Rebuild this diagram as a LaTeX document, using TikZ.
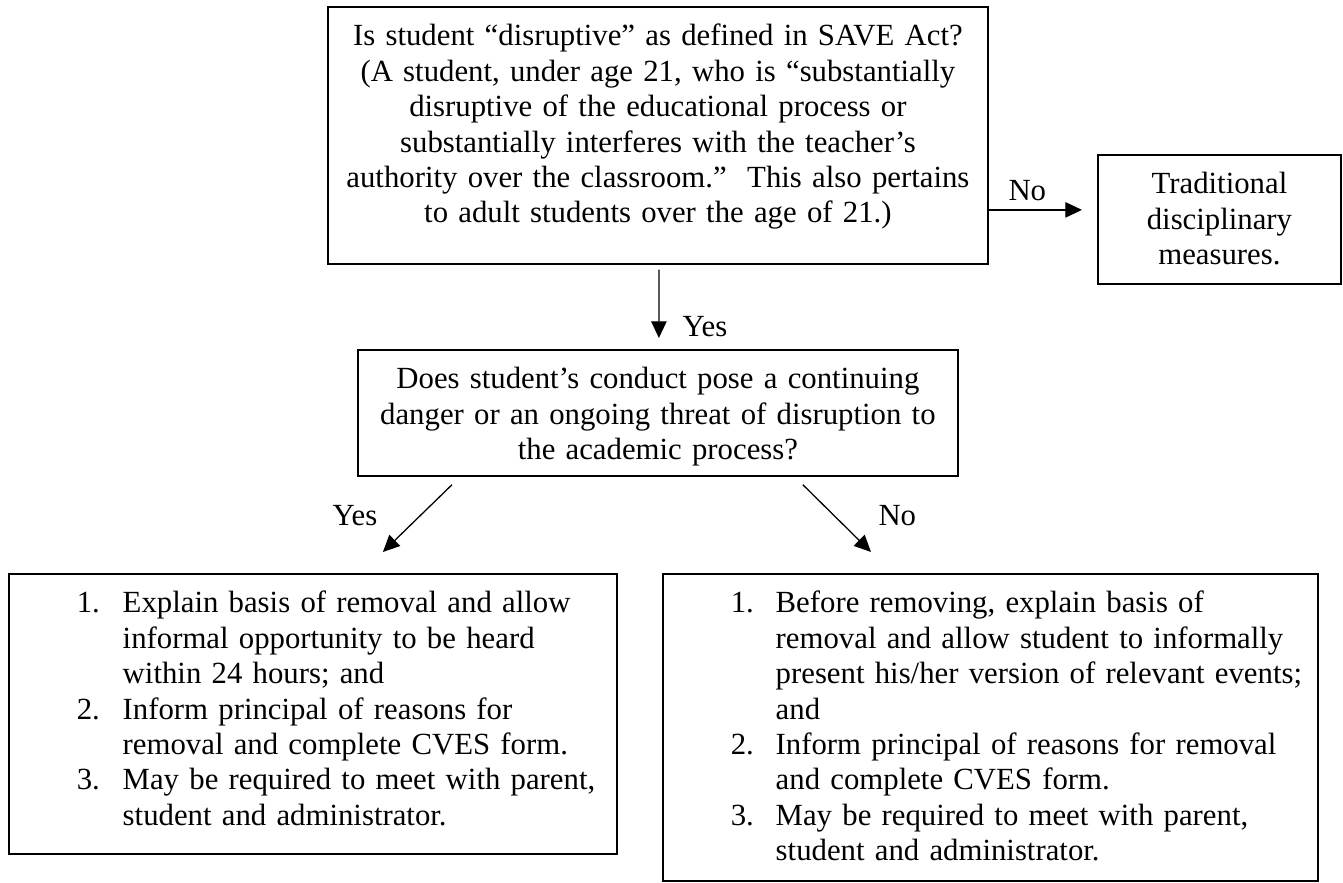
\documentclass[tikz,border=0pt]{standalone}
\usepackage{fontspec}
\setmainfont{Liberation Serif}
\usetikzlibrary{arrows.meta,calc}

\tikzset{
  qbox/.style={draw,line width=0.7pt,anchor=north west,inner xsep=0pt,inner ysep=0pt,
    align=center,text height=15.2pt},
  lbox/.style={qbox,align=left},
  lbl/.style={anchor=base west,inner sep=0pt},
  arr/.style={line width=0.5pt,-{Triangle[length=6.5pt,width=6pt]}}
}

\begin{document}
\begin{tikzpicture}[x=0.39pt,y=-0.39pt,font=\fontsize{12pt}{13.8pt}\selectfont]
\useasboundingbox (0,0) rectangle (1343,883);

% questions
\node[qbox,text width=257.4pt,text depth=85pt] (q1) at (327,6)
  {Is student “disruptive” as defined in SAVE Act?\\
   (A student, under age 21, who is “substantially\\
   disruptive of the educational process or\\
   substantially interferes with the teacher’s\\
   authority over the classroom.”\ \ This also pertains\\
   to adult students over the age of 21.)};
\node[qbox,text width=94.8pt,text depth=35.1pt] (tr) at (1097,154)
  {Traditional\\ disciplinary\\ measures.};
\node[qbox,text width=234pt,text depth=33.9pt] (q2) at (357,349)
  {Does student’s conduct pose a continuing\\
   danger or an ongoing threat of disruption to\\
   the academic process?};

% actions
\node[lbox,text width=237.1pt,text depth=94pt] (a1) at (8,573)
  {\hspace*{26.5pt}\begin{tabular}[t]{@{}p{17.9pt}@{}l@{}}
   1. & Explain basis of removal and allow\\
      & informal opportunity to be heard\\
      & within 24 hours; and\\
   2. & Inform principal of reasons for\\
      & removal and complete CVES form.\\
   3. & May be required to meet with parent,\\
      & student and administrator.
   \end{tabular}};
\node[lbox,text width=255.5pt,text depth=104.5pt] (a2) at (662,573)
  {\hspace*{26.5pt}\begin{tabular}[t]{@{}p{17.5pt}@{}l@{}}
   1. & Before removing, explain basis of\\
      & removal and allow student to informally\\
      & present his/her version of relevant events;\\
      & and\\
   2. & Inform principal of reasons for removal\\
      & and complete CVES form.\\
   3. & May be required to meet with parent,\\
      & student and administrator.
   \end{tabular}};

% labels
\node[lbl] (noA) at (1008,201) {No};
\node[lbl] (yesA) at (682,337) {Yes};
\node[lbl] (yesB) at (332,525) {Yes};
\node[lbl] (noB) at (878,525) {No};

% arrows
\coordinate (noend) at ([shift={(-15,-9.5)}]tr.west);
\draw[arr] (q1.east |- noend) -- (noend);
\draw[arr] ([shift={(1,5)}]q1.south) -- ([shift={(1,-11)}]q2.north);
\draw[arr] ([shift={(95,8)}]q2.south west) -- ([shift={(70,-21)}]a1.north);
\draw[arr] ([shift={(-156,8)}]q2.south east) -- ([shift={(209,-21)}]a2.north west);

\end{tikzpicture}
\end{document}
